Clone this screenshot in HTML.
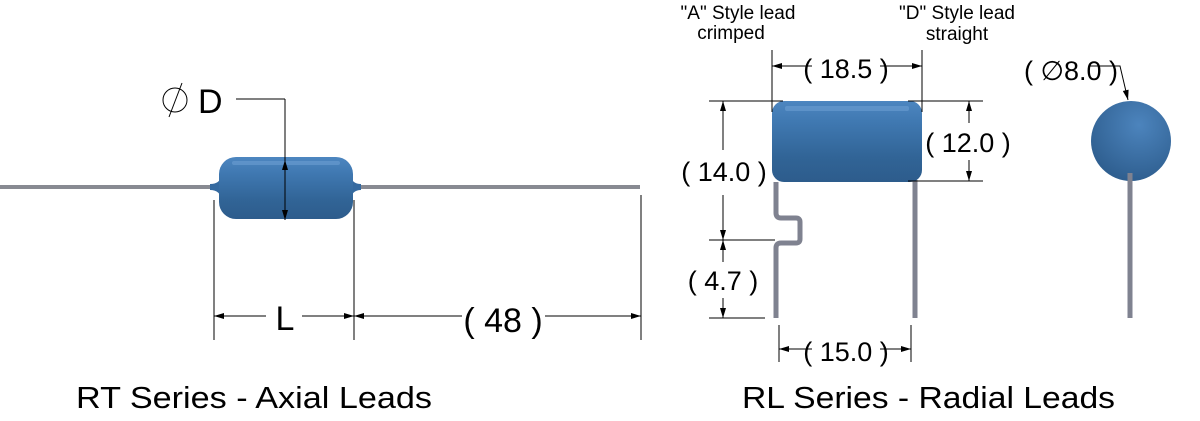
<!DOCTYPE html>
<html><head><meta charset="utf-8"><style>
html,body{margin:0;padding:0;background:#fff;width:1200px;height:421px;overflow:hidden}
svg text{font-family:"Liberation Sans",sans-serif}
</style></head><body>
<svg width="1200" height="421" viewBox="0 0 1200 421" xmlns="http://www.w3.org/2000/svg">
<defs>
<linearGradient id="bg" x1="0" y1="0" x2="0" y2="1">
<stop offset="0" stop-color="#4d86c0"/><stop offset="0.25" stop-color="#4079b2"/><stop offset="0.7" stop-color="#316496"/><stop offset="1" stop-color="#2d5c8c"/></linearGradient>
<radialGradient id="cg" cx="0.6" cy="0.3" r="0.7"><stop offset="0" stop-color="#4c84bd"/><stop offset="1" stop-color="#2f5f90"/></radialGradient>
<marker id="a" viewBox="0 0 10 6" refX="10" refY="3" markerWidth="16" markerHeight="6" markerUnits="userSpaceOnUse" orient="auto-start-reverse"><path d="M0,0L10,3L0,6z" fill="#000"/></marker>
</defs>
<line x1="0" y1="187" x2="640" y2="187" stroke="#888a92" stroke-width="4"/>
<path d="M210,184 Q220,184 222,175 L222,200 Q220,190 210,190Z M361,184 Q352,184 350,175 L350,200 Q352,190 361,190Z" fill="#356aa0"/>
<rect x="219" y="157" width="134" height="62" rx="17" fill="url(#bg)"/>
<rect x="232" y="161" width="108" height="4" rx="2" fill="#6d9fd2" opacity="0.6"/>
<g stroke="#000" stroke-width="1" fill="none">
<line x1="236" y1="99" x2="285" y2="99"/>
<line x1="285" y1="99" x2="285" y2="160"/>
<line x1="285" y1="160" x2="285" y2="190" marker-start="url(#a)"/>
<line x1="285" y1="190" x2="285" y2="220" marker-end="url(#a)"/>
<line x1="214" y1="200" x2="214" y2="340"/>
<line x1="354" y1="200" x2="354" y2="340"/>
<line x1="641" y1="195" x2="641" y2="340"/>
<line x1="214" y1="316" x2="266" y2="316" marker-start="url(#a)"/>
<line x1="302" y1="316" x2="354" y2="316" marker-end="url(#a)"/>
<line x1="354" y1="316" x2="462" y2="316" marker-start="url(#a)"/>
<line x1="545" y1="316" x2="641" y2="316" marker-end="url(#a)"/>
<circle cx="175" cy="100" r="12"/>
<line x1="169" y1="117" x2="182" y2="83"/>
</g>
<text x="198" y="113" font-size="34">D</text>
<text x="285" y="330" font-size="34" text-anchor="middle">L</text>
<text x="503" y="332" font-size="34" text-anchor="middle">( 48 )</text>
<text x="76" y="408" font-size="31" textLength="356" lengthAdjust="spacingAndGlyphs">RT Series - Axial Leads</text>
<!-- right -->
<path d="M776,182 L776,213 Q776,218 781,218 L796,218 Q800,218 800,222 L800,239 Q800,243 796,243 L781,243 Q776,243 776,248 L776,318" fill="none" stroke="#7f8290" stroke-width="5"/>
<line x1="915" y1="180" x2="915" y2="318" stroke="#7f8290" stroke-width="5"/>
<rect x="772" y="101" width="150" height="81" rx="12" fill="url(#bg)"/>
<rect x="785" y="106" width="124" height="5" rx="2" fill="#6d9fd2" opacity="0.6"/>
<circle cx="1131" cy="141" r="40" fill="url(#cg)"/>
<line x1="1130" y1="173" x2="1130" y2="318" stroke="#7f8290" stroke-width="5"/>
<g stroke="#000" stroke-width="1" fill="none">
<line x1="772" y1="50" x2="772" y2="112"/>
<line x1="922" y1="50" x2="922" y2="112"/>
<line x1="772" y1="66" x2="812" y2="66" marker-start="url(#a)"/>
<line x1="880" y1="66" x2="922" y2="66" marker-end="url(#a)"/>
<line x1="709" y1="101" x2="783" y2="101"/>
<line x1="908" y1="101" x2="983" y2="101"/>
<line x1="908" y1="181" x2="983" y2="181"/>
<line x1="969" y1="101" x2="969" y2="123" marker-start="url(#a)"/>
<line x1="969" y1="160" x2="969" y2="181" marker-end="url(#a)"/>
<line x1="723" y1="101" x2="723" y2="150" marker-start="url(#a)"/>
<line x1="723" y1="195" x2="723" y2="240" marker-end="url(#a)"/>
<line x1="709" y1="240" x2="775" y2="240"/>
<line x1="723" y1="240" x2="723" y2="262" marker-start="url(#a)"/>
<line x1="723" y1="298" x2="723" y2="318" marker-end="url(#a)"/>
<line x1="709" y1="318" x2="765" y2="318"/>
<line x1="779" y1="325" x2="779" y2="362"/>
<line x1="911" y1="325" x2="911" y2="362"/>
<line x1="779" y1="349" x2="812" y2="349" marker-start="url(#a)"/>
<line x1="880" y1="349" x2="911" y2="349" marker-end="url(#a)"/>
<path d="M1090,66 L1120,66 L1128,100" marker-end="url(#a)"/>
</g>
<g font-size="27" text-anchor="middle">
<text x="846" y="78">( 18.5 )</text>
<text x="968" y="152">( 12.0 )</text>
<text x="724" y="181">( 14.0 )</text>
<text x="723" y="290">( 4.7 )</text>
<text x="846" y="361">( 15.0 )</text>
<text x="1071" y="80">( ∅8.0 )</text>
</g>
<g font-size="19" text-anchor="middle">
<text x="738" y="19">"A" Style lead</text>
<text x="731" y="39">crimped</text>
<text x="957" y="19">"D" Style lead</text>
<text x="957" y="40">straight</text>
</g>
<text x="742" y="408" font-size="31" textLength="373" lengthAdjust="spacingAndGlyphs">RL Series - Radial Leads</text>
</svg>
</body></html>
